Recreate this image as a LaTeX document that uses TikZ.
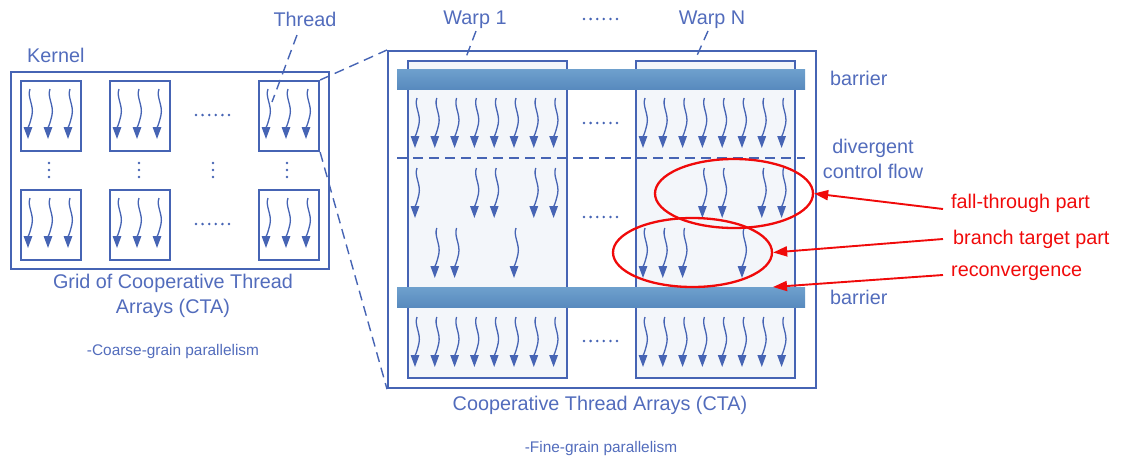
\documentclass[tikz,border=0pt]{standalone}
\usepackage{fontspec}
\setmainfont{Liberation Sans}
\usetikzlibrary{arrows.meta,shapes.geometric}
\definecolor{lblue}{RGB}{70,100,180}
\definecolor{tblue}{RGB}{82,108,188}
\definecolor{wfill}{RGB}{243,246,250}
\definecolor{bartop}{RGB}{110,160,205}
\definecolor{barbot}{RGB}{88,138,190}
\definecolor{myred}{RGB}{240,10,10}
\begin{document}
\begin{tikzpicture}[x=1pt,y=-1pt,
  box/.style={draw=lblue,line width=2.1pt,inner sep=0,anchor=north west},
  barbox/.style={inner sep=0,anchor=north west,top color=bartop,bottom color=barbot,draw=none,minimum width=408,minimum height=20},
  dl/.style={draw=lblue,line width=1.4pt,dash pattern=on 10pt off 6pt},
  lab/.style={text=tblue,inner sep=0,font=\fontsize{19.8}{25}\selectfont},
  small/.style={text=tblue,inner sep=0,font=\fontsize{15.4}{18}\selectfont},
  rlab/.style={text=myred,inner sep=0,anchor=west,font=\fontsize{19.8}{25}\selectfont},
  redell/.style={ellipse,draw=myred,line width=2.3pt,inner sep=0},
  redarr/.style={draw=myred,line width=1.9pt,-{Triangle[width=10pt,length=14pt]}},
  thr/.pic={\draw[lblue,line width=1.3pt,-{Triangle[width=8.5pt,length=12pt]}] (0,0) .. controls (-3,8) and (4,16) .. (2,26) .. controls (0,35) and (-2,39) .. (-2,50);},
  hdots/.pic={\foreach \i in {0,...,5} \fill[lblue] (\i*6.6,0) circle (1.4pt);},
  vdots/.pic={\foreach \i in {0,1,2} \fill[lblue] (0,\i*7) circle (1.4pt);}
]
\useasboundingbox (0,0) rectangle (1121,464);

% ---------- Kernel grid ----------
\node[box,minimum width=318,minimum height=197] (kernel) at (10,71) {};
\node[lab,anchor=west] (kernellab) at (27,55) {Kernel};
\foreach \c/\x in {1/20,2/109,3/258}
  \foreach \r/\y in {1/80,2/189} {
    \node[box,minimum width=60,minimum height=70] (k\r\c) at (\x,\y) {};
    \foreach \dx in {10,30,50} \pic at (\x+\dx,\y+9) {thr};
  }
\pic at (196,115) {hdots};
\pic at (196,224) {hdots};
\foreach \x in {49,139,213,287} \pic at (\x,163) {vdots};
\node[lab,align=center] (gridlab) at (173,296) {Grid of Cooperative Thread\\Arrays (CTA)};
\node[small] (coarse) at (173,352) {-Coarse-grain parallelism};

\node[lab] (thrlab) at (305,19) {Thread};
\coordinate (thrA) at (297,35);
\coordinate (thrB) at (272,102);
\draw[dl] (thrA) -- (thrB);

% ---------- CTA ----------
\node[box,minimum width=428,minimum height=337] (cta) at (387,50) {};
\node[box,fill=wfill,minimum width=159,minimum height=317] (w1) at (407,60) {};
\node[box,fill=wfill,minimum width=159,minimum height=317] (wN) at (635,60) {};
\node[barbox] (bar1) at (397,69) {};
\node[barbox] (bar2) at (397,287) {};

\draw[dl] (k13.north east) -- (cta.north west);
\draw[dl] (k13.south east) -- (cta.south west);

\node[lab] (w1lab) at (475,20) {Warp 1};
\node[lab] (wNlab) at (712,20) {Warp N};
\pic at (584,19) {hdots};
\coordinate (w1a) at (476,31);
\coordinate (wNa) at (708,31);
\draw[dl] (w1a) -- ([xshift=58pt]w1.north west);
\draw[dl] (wNa) -- ([xshift=60pt]wN.north west);

% threads
\foreach \L in {407,635} {
  \foreach \i in {1,...,8} {
    \pic at (\L+10+19.8*\i-19.8,98) {thr};
    \pic at (\L+10+19.8*\i-19.8,317) {thr};
  }
}
\foreach \i in {1,4,5,7,8} \pic at (407+10+19.8*\i-19.8,168) {thr};
\foreach \i in {2,3,6} \pic at (407+10+19.8*\i-19.8,228) {thr};
\foreach \i in {4,5,7,8} \pic at (635+10+19.8*\i-19.8,168) {thr};
\foreach \i in {1,2,3,6} \pic at (635+10+19.8*\i-19.8,228) {thr};

\pic at (584,123) {hdots};
\pic at (584,217) {hdots};
\pic at (584,341) {hdots};

\coordinate (dv1) at (397,158);
\coordinate (dv2) at (805,158);
\draw[dl] (dv1) -- (dv2);

\node[lab,anchor=west] (barlab1) at (830,78) {barrier};
\node[lab,anchor=west] (barlab2) at (830,297) {barrier};
\node[lab,align=center] (divlab) at (873,159) {divergent\\control flow};

\node[lab] (ctalab) at (600,405) {Cooperative Thread Arrays (CTA)};
\node[small] (fine) at (601,449) {-Fine-grain parallelism};

% ---------- red annotations ----------
\node[redell,minimum width=158,minimum height=69] (fall) at (734,193.5) {};
\node[redell,minimum width=159,minimum height=69] (branch) at (692.5,252.5) {};
\coordinate (reconv) at (773,287);

\node[rlab] (falllab) at (951,203) {fall-through part};
\node[rlab] (branchlab) at (953,239) {branch target part};
\node[rlab] (reconvlab) at (951,273) {reconvergence};

\draw[redarr] ([xshift=-8pt,yshift=-6pt]falllab.west) -- (fall.east);
\draw[redarr] ([xshift=-10pt]branchlab.west) -- (branch.east);
\draw[redarr] ([xshift=-8pt,yshift=-2pt]reconvlab.west) -- (reconv);
\end{tikzpicture}
\end{document}
